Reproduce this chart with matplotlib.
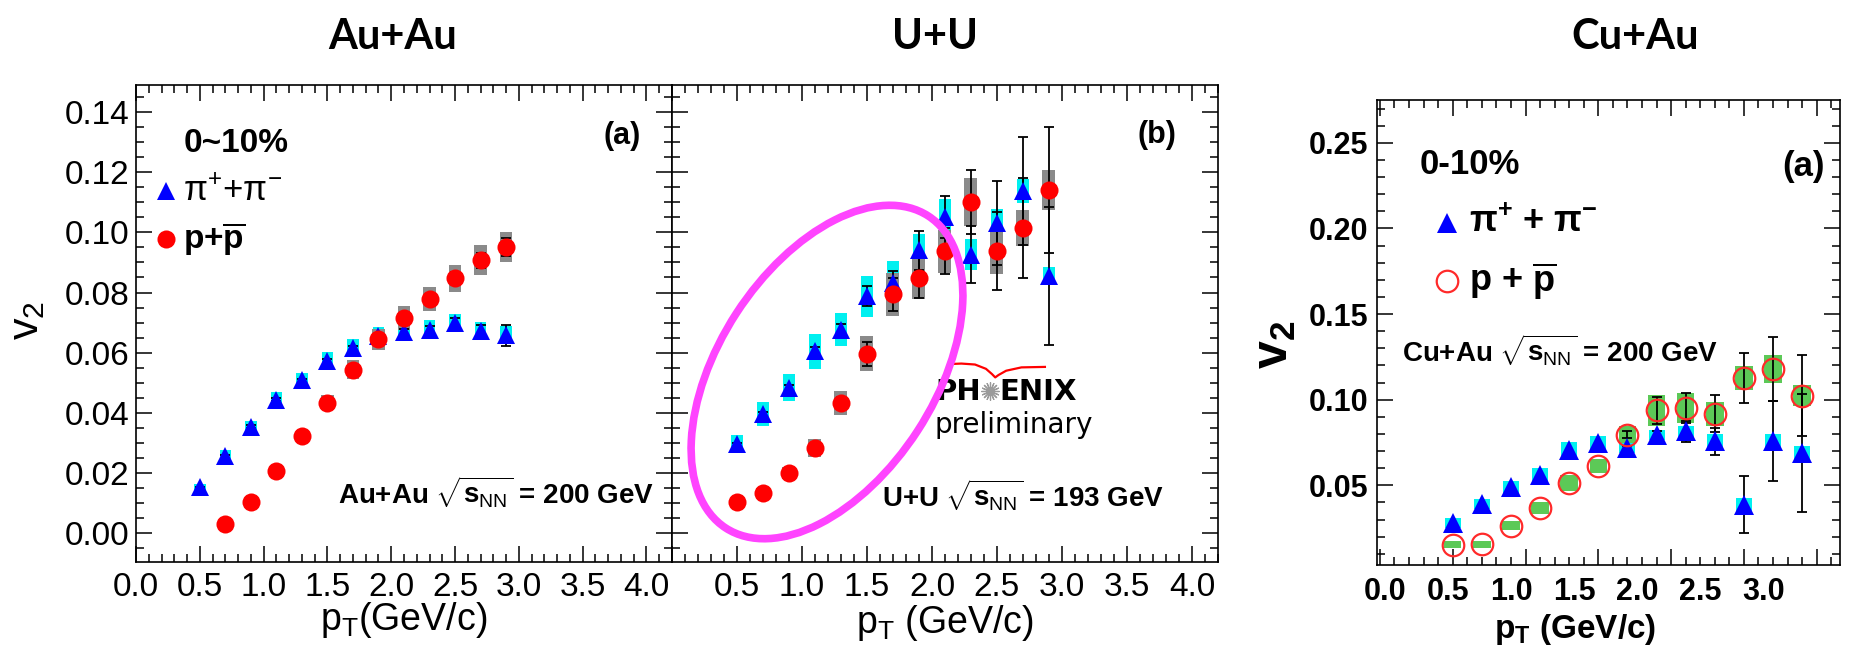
import numpy as np
import matplotlib
matplotlib.use('Agg')
import matplotlib.pyplot as plt
from matplotlib.patches import Ellipse
from matplotlib.ticker import MultipleLocator

plt.rcParams['font.family'] = ['Liberation Sans', 'DejaVu Sans']
plt.rcParams['mathtext.fontset'] = 'custom'
plt.rcParams['mathtext.rm'] = 'Liberation Sans'
plt.rcParams['mathtext.it'] = 'Liberation Sans:italic'
plt.rcParams['mathtext.bf'] = 'Liberation Sans:bold'

# ---- data ----
pt = [0.5, 0.7, 0.9, 1.1, 1.3, 1.5, 1.7, 1.9, 2.1, 2.3, 2.5, 2.7, 2.9]

# Au+Au 0-10%
auau_pi = [0.0152, 0.0255, 0.0354, 0.0443, 0.0509, 0.0572, 0.0616, 0.0655,
           0.0668, 0.0677, 0.0699, 0.0672, 0.0658]
auau_pi_stat = [0.0003, 0.0004, 0.0004, 0.0005, 0.0005, 0.0006, 0.0007, 0.0008,
                0.001, 0.0012, 0.0015, 0.002, 0.0035]
auau_pi_sys = [0.001, 0.002, 0.002, 0.0025, 0.0025, 0.003, 0.003, 0.003,
               0.003, 0.003, 0.003, 0.003, 0.003]
auau_p_pt = pt[1:]
auau_p = [0.0029, 0.0102, 0.0208, 0.0323, 0.0434, 0.0544, 0.0644, 0.0716,
          0.0780, 0.0848, 0.0907, 0.0952]
auau_p_stat = [0.0005, 0.0005, 0.0006, 0.0007, 0.0008, 0.001, 0.001, 0.0012,
               0.0015, 0.002, 0.0025, 0.003]
auau_p_sys = [0.0005, 0.001, 0.0015, 0.002, 0.0025, 0.003, 0.0035, 0.004,
              0.004, 0.0045, 0.005, 0.005]

# U+U 0-10%
uu_pi = [0.0295, 0.0395, 0.0484, 0.0605, 0.0677, 0.0788, 0.083, 0.094,
         0.105, 0.0926, 0.103, 0.1137, 0.0854]
uu_pi_stat = [0.0005, 0.0008, 0.001, 0.0015, 0.002, 0.0033, 0.004, 0.0064,
              0.007, 0.0095, 0.014, 0.018, 0.023]
uu_pi_sys = [0.003, 0.004, 0.0045, 0.0058, 0.0055, 0.0068, 0.0075, 0.0055,
             0.006, 0.0052, 0.0047, 0.004, 0.003]
uu_p = [0.0102, 0.0135, 0.0199, 0.0284, 0.0432, 0.0597, 0.0794, 0.0849,
        0.0937, 0.110, 0.0937, 0.1015, 0.1142]
uu_p_stat = [0.0005, 0.0007, 0.001, 0.0015, 0.002, 0.004, 0.0055, 0.0066,
             0.0077, 0.0106, 0.013, 0.0166, 0.021]
uu_p_sys = [0.001, 0.0015, 0.002, 0.003, 0.004, 0.0057, 0.0072, 0.0072,
            0.0072, 0.008, 0.0075, 0.006, 0.0066]

# Cu+Au 0-10%
cuau_pi = [0.028, 0.0393, 0.049, 0.0562, 0.0708, 0.0747, 0.0718, 0.0796,
           0.0815, 0.0757, 0.0387, 0.0757, 0.0689]
cuau_pi_stat = [0, 0, 0, 0, 0, 0, 0.001, 0.002, 0.006, 0.008, 0.0167,
                0.0234, 0.0347]
cuau_pi_sys = [0.003, 0.003, 0.0035, 0.004, 0.0045, 0.004, 0.003, 0.003,
               0.003, 0.004, 0.004, 0.004, 0.004]
cuau_p = [0.0153, 0.0157, 0.0264, 0.0368, 0.0514, 0.0611, 0.0796, 0.0938,
          0.0952, 0.0919, 0.1127, 0.118, 0.1024]
cuau_p_stat = [0, 0, 0, 0, 0, 0, 0.002, 0.008, 0.009, 0.011, 0.0146,
               0.0187, 0.0236]
cuau_p_sys = [0.002, 0.002, 0.0025, 0.0035, 0.0045, 0.004, 0.005, 0.009,
              0.009, 0.007, 0.007, 0.008, 0.006]

ticks_ptl = [0.0, 0.5, 1.0, 1.5, 2.0, 2.5, 3.0, 3.5, 4.0]
ticks_cu = [0.0, 0.5, 1.0, 1.5, 2.0, 2.5, 3.0]

BLUE = '#0000ff'
CYAN = '#00f0f0'
RED = '#ff0000'
GRAY = '#8a8a8a'
GREEN = '#5cc957'


def style(ax):
    ax.tick_params(which='both', direction='in', top=True, right=True,
                   width=1.1, colors='black')
    ax.tick_params(which='major', length=11.5)
    ax.tick_params(which='minor', length=6)
    for s in ax.spines.values():
        s.set_linewidth(1.2)


def draw_set(ax, x, y, stat, sys, box_color, box_w, **mk):
    x = np.array(x)
    y = np.array(y)
    stat = np.array(stat)
    sys = np.array(sys)
    ax.bar(x, 2 * sys, bottom=y - sys, width=box_w, color=box_color,
           linewidth=0, zorder=2)
    m = stat > 0
    ax.errorbar(x[m], y[m], yerr=stat[m], fmt='none', ecolor='black',
                elinewidth=1.3, capsize=3.5, capthick=1.3, zorder=3)
    ax.plot(x, y, linestyle='none', zorder=4, **mk)


fig = plt.figure(figsize=(18.56, 6.55), dpi=100)
W, H = 1856.0, 655.0
ax1 = fig.add_axes([136 / W, 1 - 562 / H, 536 / W, 477 / H])
ax2 = fig.add_axes([672 / W, 1 - 562 / H, 546 / W, 477 / H])
ax3 = fig.add_axes([1377 / W, 1 - 565 / H, 463 / W, 465 / H])

tri = dict(marker='^', color=BLUE, markersize=12.5, markeredgewidth=0)
dot = dict(marker='o', color=RED, markersize=13, markeredgewidth=0)

# ---- Au+Au ----
draw_set(ax1, pt, auau_pi, auau_pi_stat, auau_pi_sys, CYAN, 0.09, **tri)
draw_set(ax1, auau_p_pt, auau_p, auau_p_stat, auau_p_sys, GRAY, 0.1, **dot)

# ---- U+U ----
draw_set(ax2, pt, uu_pi, uu_pi_stat, uu_pi_sys, CYAN, 0.09, **tri)
draw_set(ax2, pt, uu_p, uu_p_stat, uu_p_sys, GRAY, 0.1, **dot)

for ax in (ax1, ax2):
    style(ax)
    ax.set_xlim(0, 4.2)
    ax.set_ylim(-0.0096, 0.149)
    ax.xaxis.set_minor_locator(MultipleLocator(0.1))
    ax.yaxis.set_major_locator(MultipleLocator(0.02))
    ax.yaxis.set_minor_locator(MultipleLocator(0.005))
    ax.tick_params(axis='x', which='major', pad=7, labelsize=24)
    ax.tick_params(axis='y', which='major', pad=5, labelsize=24)

ax1.set_xticks(ticks_ptl, ['%.1f' % t for t in ticks_ptl])
ax1.set_yticks(np.arange(0, 0.141, 0.02),
               ['%.2f' % t for t in np.arange(0, 0.141, 0.02)])
ax2.set_xticks(ticks_ptl, [''] + ['%.1f' % t for t in ticks_ptl[1:]])
ax2.tick_params(labelleft=False)

ax1.set_xlabel(r'p$_{\rm T}$(GeV/c)', fontsize=27)
ax1.xaxis.set_label_coords(0.5, -0.08)
ax2.set_xlabel(r'p$_{\rm T}$ (GeV/c)', fontsize=27)
ax2.xaxis.set_label_coords(0.5, -0.085)
ax1.set_ylabel(r'v$_{\rm 2}$', fontsize=31)
ax1.yaxis.set_label_coords(-0.165, 0.507)

# texts Au+Au
ax1.text(0.088, 0.878, '0~10%', transform=ax1.transAxes, fontsize=24,
         fontweight='bold', va='center')
ax1.plot([0.056], [0.777], transform=ax1.transAxes, **tri)
ax1.text(0.088, 0.777, r'π$^{+}$+π$^{-}$', transform=ax1.transAxes,
         fontsize=25, va='center')
ax1.plot([0.056], [0.677], transform=ax1.transAxes, **dot)
ax1.text(0.088, 0.677, r'p+$\overline{\mathbf{p}}$', transform=ax1.transAxes,
         fontsize=24, fontweight='bold', va='center')
ax1.text(0.907, 0.893, '(a)', transform=ax1.transAxes, fontsize=22,
         fontweight='bold', ha='center', va='center')
ax1.text(0.967, 0.146, r'Au+Au $\sqrt{\mathbf{s}_{\rm NN}}$ = 200 GeV',
         transform=ax1.transAxes, fontsize=20, fontweight='bold',
         ha='right', va='center')

# texts U+U
ax2.text(0.888, 0.896, '(b)', transform=ax2.transAxes, fontsize=22,
         fontweight='bold', ha='center', va='center')
ax2.text(0.385, 0.140, r'U+U $\sqrt{\mathbf{s}_{\rm NN}}$ = 193 GeV',
         transform=ax2.transAxes, fontsize=20, fontweight='bold',
         ha='left', va='center')
# PHENIX preliminary logo
ax2.text(0.566, 0.356, 'PH', transform=ax2.transAxes, fontsize=21,
         fontweight='bold', family='DejaVu Sans', ha='right', va='center')
ax2.text(0.600, 0.356, 'ENIX', transform=ax2.transAxes, fontsize=21,
         fontweight='bold', family='DejaVu Sans', ha='left', va='center')
ax2.plot([0.583], [0.358], transform=ax2.transAxes, marker=(16, 2, 0),
         markersize=13, color='#9a9a9a', markeredgewidth=0.9)
ax2.plot([0.509, 0.530, 0.555, 0.575, 0.586, 0.592, 0.598, 0.612, 0.640,
          0.683],
         [0.415, 0.416, 0.414, 0.405, 0.394, 0.387, 0.392, 0.401, 0.408,
          0.409],
         transform=ax2.transAxes, color='red', lw=1.6)
ax2.text(0.625, 0.287, 'preliminary', transform=ax2.transAxes, fontsize=20,
         family='DejaVu Sans', ha='center', va='center')

# magenta ellipse highlight (figure inches)
ell = Ellipse((8.27, 2.83), width=3.72, height=2.16, angle=57,
              transform=fig.dpi_scale_trans, fill=False,
              edgecolor='#ff44ff', linewidth=5.5, zorder=10)
fig.add_artist(ell)

# ---- Cu+Au ----
draw_set(ax3, pt, cuau_pi, cuau_pi_stat, cuau_pi_sys, CYAN, 0.11,
         marker='^', color=BLUE, markersize=14, markeredgewidth=0)
draw_set(ax3, pt, cuau_p, cuau_p_stat, cuau_p_sys, GREEN, 0.12,
         marker='o', markerfacecolor='none', markeredgecolor='#ff2a2a',
         markersize=15.5, markeredgewidth=1.6)
style(ax3)
ax3.set_xlim(-0.02, 3.16)
ax3.set_ylim(0.0035, 0.275)
ax3.xaxis.set_major_locator(MultipleLocator(0.5))
ax3.xaxis.set_minor_locator(MultipleLocator(0.1))
ax3.yaxis.set_minor_locator(MultipleLocator(0.01))
ax3.set_yticks([0.05, 0.10, 0.15, 0.20, 0.25],
               ['0.05', '0.10', '0.15', '0.20', '0.25'],
               fontweight='bold', fontsize=22)
ax3.tick_params(axis='y', which='major', pad=6)
ax3.tick_params(labelbottom=False)

# tick labels of the Cu+Au panel sit on a slightly compressed scale
sec = ax3.secondary_xaxis('bottom',
                          functions=(lambda x: (x - 0.0344) / 0.8666,
                                     lambda v: 0.0344 + 0.8666 * v))
sec.set_xticks(ticks_cu, ['%.1f' % t for t in ticks_cu],
               fontweight='bold', fontsize=22)
sec.tick_params(length=0, pad=9)
sec.spines['bottom'].set_visible(False)
ax3.set_xlabel(r'p$_{\mathbf{T}}$ (GeV/c)', fontsize=24, fontweight='bold')
ax3.xaxis.set_label_coords(0.428, -0.102)
ax3.set_ylabel(r'v$_{\mathbf{2}}$', fontsize=36, fontweight='bold')
ax3.yaxis.set_label_coords(-0.17, 0.473)

ax3.text(0.093, 0.861, '0-10%', transform=ax3.transAxes, fontsize=25,
         fontweight='bold', va='center')
ax3.text(0.966, 0.856, '(a)', transform=ax3.transAxes, fontsize=25,
         fontweight='bold', ha='right', va='center')
ax3.plot([0.152], [0.736], transform=ax3.transAxes, marker='^', color=BLUE,
         markersize=14, markeredgewidth=0)
ax3.text(0.199, 0.736, r'π$^{\mathbf{+}}$ + π$^{\mathbf{-}}$',
         transform=ax3.transAxes, fontsize=26, fontweight='bold', va='center')
ax3.plot([0.152], [0.61], transform=ax3.transAxes, marker='o',
         markerfacecolor='none', markeredgecolor='#ff2a2a', markersize=15.5,
         markeredgewidth=1.6)
ax3.text(0.199, 0.61, r'p + $\overline{\mathbf{p}}$', transform=ax3.transAxes,
         fontsize=26, fontweight='bold', va='center')
ax3.text(0.053, 0.463, r'Cu+Au $\sqrt{\mathbf{s}_{\rm NN}}$ = 200 GeV',
         transform=ax3.transAxes, fontsize=20, fontweight='bold', va='center')

# panel titles
for label, xc in (('Au+Au', 393), ('U+U', 935), ('Cu+Au', 1635)):
    fig.text(xc / W, 1 - 37 / H, label, fontsize=30, fontweight='bold',
             family=['Lato', 'DejaVu Sans'], ha='center', va='center')

fig.savefig('out.png', dpi=100)
